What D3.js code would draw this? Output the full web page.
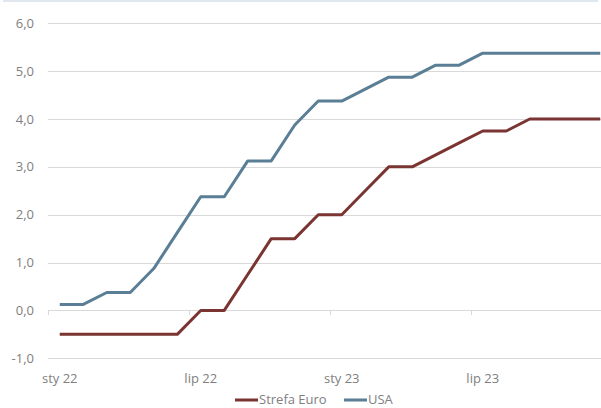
<!DOCTYPE html>
<html lang="pl">
<head>
<meta charset="UTF-8">
<title>Stopy procentowe</title>
<script src="https://cdn.jsdelivr.net/npm/d3@7"></script>
<style>
  body { margin: 0; background: #fff; }
  text { font-family: "Open Sans", "Lato", sans-serif; }
</style>
</head>
<body>
<script>
// miesiące sty 22 - gru 23
const months = ["2022-01","2022-02","2022-03","2022-04","2022-05","2022-06","2022-07","2022-08","2022-09","2022-10","2022-11","2022-12",
                "2023-01","2023-02","2023-03","2023-04","2023-05","2023-06","2023-07","2023-08","2023-09","2023-10","2023-11","2023-12"];
const euro = [-0.5,-0.5,-0.5,-0.5,-0.5,-0.5,0,0,0.75,1.5,1.5,2.0,2.0,2.5,3.0,3.0,3.25,3.5,3.75,3.75,4.0,4.0,4.0,4.0];
const usa = [0.125,0.125,0.375,0.375,0.875,1.625,2.375,2.375,3.125,3.125,3.875,4.375,4.375,4.625,4.875,4.875,5.125,5.125,5.375,5.375,5.375,5.375,5.375,5.375];
const xLabels = {"2022-01": "sty 22", "2022-07": "lip 22", "2023-01": "sty 23", "2023-07": "lip 23"};
const yTicks = [-1, 0, 1, 2, 3, 4, 5, 6];
const series = [
  { name: "Strefa Euro", values: euro, color: "#7a3532" },
  { name: "USA", values: usa, color: "#5a7e95" }
];

const width = 601, height = 408;
const svg = d3.select("body").append("svg")
    .attr("width", width)
    .attr("height", height);

// cienka ramka u góry
svg.append("rect")
    .attr("x", 3).attr("y", 0)
    .attr("width", 595).attr("height", 2)
    .attr("fill", "#dfe8ee");

const x = d3.scaleBand().domain(months).range([48, 48 + 24 * 23.5]);
const y = d3.scaleLinear().domain([-1, 6]).range([358.3, 23.3]);

// siatka
svg.append("g")
  .selectAll("line")
  .data(yTicks)
  .join("line")
    .attr("x1", 48).attr("x2", width)
    .attr("y1", d => Math.round(y(d)) + 0.5)
    .attr("y2", d => Math.round(y(d)) + 0.5)
    .attr("stroke", "#d9d9d9");

svg.append("g")
  .selectAll("text")
  .data(yTicks)
  .join("text")
    .attr("x", 34)
    .attr("y", d => y(d) + 4.5)
    .attr("text-anchor", "end")
    .attr("font-size", 13)
    .attr("fill", "#808080")
    .text(d => d3.format(".1f")(d).replace(".", ",").replace("−", "-"));

// znaczniki osi X
const tickMonths = Object.keys(xLabels);
svg.append("g")
  .selectAll("line")
  .data(tickMonths)
  .join("line")
    .attr("x1", d => Math.round(x(d)) + 0.5)
    .attr("x2", d => Math.round(x(d)) + 0.5)
    .attr("y1", Math.round(y(0)))
    .attr("y2", Math.round(y(0)) + 5)
    .attr("stroke", "#d9d9d9");

svg.append("g")
  .selectAll("text")
  .data(tickMonths)
  .join("text")
    .attr("x", d => x(d) + x.bandwidth() / 2)
    .attr("y", 383)
    .attr("text-anchor", "middle")
    .attr("font-size", 13)
    .attr("fill", "#808080")
    .text(d => xLabels[d]);

// linie
const line = d3.line()
    .x((d, i) => x(months[i]) + x.bandwidth() / 2)
    .y(d => y(d));

svg.append("g")
  .selectAll("path")
  .data(series)
  .join("path")
    .attr("fill", "none")
    .attr("stroke", d => d.color)
    .attr("stroke-width", 3)
    .attr("stroke-linejoin", "round")
    .attr("d", d => line(d.values));

// legenda
const legendX = [235, 344];
const leg = svg.append("g")
  .selectAll("g")
  .data(series)
  .join("g")
    .attr("transform", (d, i) => `translate(${legendX[i]},400)`);
leg.append("rect")
    .attr("x", 0).attr("y", -1.5)
    .attr("width", 23).attr("height", 3)
    .attr("fill", d => d.color);
leg.append("text")
    .attr("x", 24)
    .attr("y", 4)
    .attr("font-size", 13)
    .attr("fill", "#808080")
    .text(d => d.name);
</script>
</body>
</html>
